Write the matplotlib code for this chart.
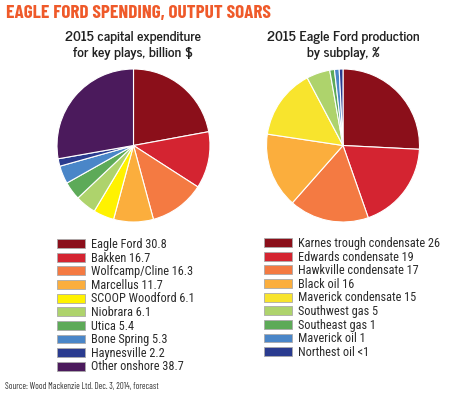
import matplotlib.pyplot as plt

# capital expenditure, billion $
capex_labels = ['Eagle Ford', 'Bakken', 'Wolfcamp/Cline', 'Marcellus', 'SCOOP Woodford',
                'Niobrara', 'Utica', 'Bone Spring', 'Haynesville', 'Other onshore']
capex_values = [30.8, 16.7, 16.3, 11.7, 6.1, 6.1, 5.4, 5.3, 2.2, 38.7]
capex_colors = ['#8b0f1a', '#d42431', '#f47a42', '#fbae3d', '#fff200',
                '#aed36c', '#5daa58', '#4a86c8', '#2a3b8f', '#4b1a5c']

# production share by subplay, %
prod_labels = ['Karnes trough condensate', 'Edwards condensate', 'Hawkville condensate',
               'Black oil', 'Maverick condensate', 'Southwest gas', 'Southeast gas',
               'Maverick oil', 'Northest oil']
prod_text = ['26', '19', '17', '16', '15', '5', '1', '1', '<1']
prod_values = [26, 19, 17, 16, 15, 5, 1, 1, 0.8]
prod_colors = ['#8b0f1a', '#d42431', '#f47a42', '#fbae3d', '#f8e42d',
               '#aed36c', '#5daa58', '#4a86c8', '#2a3b8f']

cond = ['Roboto Condensed', 'DejaVu Sans']
narrow = ['Barlow Condensed', 'DejaVu Sans']
gothic = ['News Cycle', 'DejaVu Sans']

W, H = 450, 394
fig = plt.figure(figsize=(W / 100, H / 100), dpi=100)


def pie_axes(cx, cy, r):
    return fig.add_axes([(cx - r) / W, 1 - (cy + r) / H, 2 * r / W, 2 * r / H])


def draw_pie(ax, values, colors):
    wedges, _ = ax.pie(values, colors=colors, startangle=90, counterclock=False,
                       wedgeprops=dict(edgecolor='white', linewidth=0.8))
    ax.set_xlim(-1, 1)
    ax.set_ylim(-1, 1)
    ax.set_aspect('equal')
    return wedges


ax1 = pie_axes(133.5, 145.5, 76.5)
w1 = draw_pie(ax1, capex_values, capex_colors)
ax2 = pie_axes(343, 145.5, 76.5)
w2 = draw_pie(ax2, prod_values, prod_colors)

fig.text(6 / W, 1 - 14 / H, 'EAGLE FORD SPENDING, OUTPUT SOARS', family=narrow,
         weight='bold', fontsize=13.8, color='#ef5a2a', va='center', ha='left')

for x, lines in [(133, ['2015 capital expenditure', 'for key plays, billion $']),
                 (343, ['2015 Eagle Ford production', 'by subplay, %'])]:
    for i, line in enumerate(lines):
        fig.text(x / W, 1 - (37 + i * 16) / H, line, family=gothic, fontsize=10,
                 color='#222222', ha='center', va='center', weight='bold')

capex_legend = [f'{l} {v}' for l, v in zip(capex_labels, capex_values)]
prod_legend = [f'{l} {t}' for l, t in zip(prod_labels, prod_text)]

leg_kw = dict(frameon=False, prop={'family': cond, 'size': 8.8},
              handlelength=2.3, handleheight=0.75, handletextpad=0.5,
              labelspacing=0.05, borderaxespad=0, borderpad=0, labelcolor='#2a2a2a')

l1 = fig.legend(w1, capex_legend, loc='upper left',
                bbox_to_anchor=(57 / W, 1 - 238 / H), **leg_kw)
l2 = fig.legend(w2, prod_legend, loc='upper left',
                bbox_to_anchor=(264 / W, 1 - 237 / H), **leg_kw)
for leg in (l1, l2):
    for p in leg.get_patches():
        p.set_edgecolor('#aaaaaa')
        p.set_linewidth(0.6)

fig.text(5 / W, 1 - 386 / H, 'Source: Wood Mackenzie Ltd. Dec. 3, 2014, forecast',
         family=narrow, fontsize=6.4, color='#333333', va='center', ha='left')

fig.savefig('out.png', dpi=100)
